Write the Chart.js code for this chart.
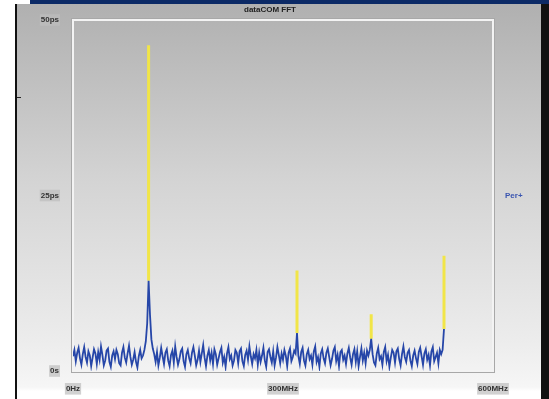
<!DOCTYPE html>
<html>
<head>
<meta charset="utf-8">
<script src="https://cdn.jsdelivr.net/npm/chart.js@4.4.1/dist/chart.umd.min.js"></script>
<style>
  html, body { margin: 0; padding: 0; background: #fff; }
  #frame {
    position: absolute; left: 15px; top: 4px; width: 524px; height: 395px;
    border-left: 2px solid #111; border-right: 8px solid #111;
    background: linear-gradient(#b0b0b0 0%, #d4d4d4 45%, #ececec 85%, #f6f6f6 97%, #ffffff 98%);
  }
  #band { position: absolute; left: 30px; top: 0; width: 519px; height: 4px; background: #0c2a66; }
  #dash { position: absolute; left: 17px; top: 97px; width: 4px; height: 1px; background: #222; }
  #wrap { position: absolute; left: 0; top: 0; width: 549px; height: 399px; }
</style>
</head>
<body>
<div id="frame"></div>
<div id="band"></div>
<div id="dash"></div>
<div id="wrap"><canvas id="fft" width="549" height="399"></canvas></div>
<script>
// trace sampled every 2 MHz starting at 0 Hz
const stepMHz = 2;
const perValues = [
  2.1, 3.0, 1.4, 2.6, 3.3, 1.8, 0.9, 2.4, 3.4, 2.0,
  1.2, 2.8, 2.2, 0.7, 1.9, 3.1, 2.5, 1.0, 2.7, 1.6,
  3.5, 2.3, 0.8, 1.5, 2.9, 3.2, 1.3, 0.6, 2.2, 2.8,
  1.7, 3.0, 2.4, 1.1, 0.8, 2.6, 3.4, 1.9, 1.2, 2.5,
  3.6, 2.0, 0.9, 1.6, 2.7, 1.3, 0.5, 2.1, 3.0, 1.8,
  2.2, 3.0, 4.2, 6.8, 12.9, 8.0, 4.5, 3.2, 2.4, 1.3,
  2.7, 0.8, 1.9, 3.3, 2.1, 1.0, 2.6, 3.1, 1.5, 0.7,
  2.3, 2.9, 1.2, 3.5, 2.0, 0.9, 1.7, 2.8, 3.2, 1.4,
  0.6, 2.4, 3.0, 1.8, 1.1, 2.6, 3.4, 2.2, 0.8, 1.6,
  2.9, 1.3, 2.5, 3.7, 1.9, 0.7, 2.2, 3.0, 1.5, 2.6,
  1.0, 3.1, 2.4, 0.9, 1.8, 2.7, 3.3, 1.2, 2.0, 0.6,
  2.5, 3.4, 1.7, 2.2, 0.8, 1.5, 3.0, 2.6, 1.1, 2.8,
  3.2, 1.4, 0.7, 2.3, 2.9, 1.6, 3.5, 2.1, 1.0, 2.4,
  1.8, 3.0, 0.9, 2.6, 1.3, 2.2, 3.3, 1.5, 0.6, 2.7,
  3.1, 2.0, 1.2, 2.8, 0.8, 1.9, 3.4, 2.3, 1.1, 2.5,
  1.6, 3.0, 2.2, 0.7, 2.6, 3.2, 1.4, 2.0, 2.9, 2.5,
  5.4, 2.1, 1.0, 2.7, 3.3, 1.5, 0.8, 2.4, 3.0, 1.7,
  2.2, 0.9, 2.8, 3.5, 1.3, 2.0, 0.6, 2.5, 3.1, 1.8,
  1.1, 2.6, 3.2, 2.0, 0.8, 1.7, 2.9, 3.4, 1.4, 2.3,
  0.7, 2.7, 3.0, 1.6, 2.2, 1.0, 2.5, 3.3, 1.9, 0.9,
  2.4, 3.1, 1.3, 2.8, 0.7, 2.0, 3.2, 1.5, 2.6, 1.1,
  2.9, 2.2, 3.0, 4.6, 2.4, 1.2, 0.8, 2.5, 3.3, 1.7,
  2.1, 0.9, 2.7, 3.4, 1.4, 2.3, 0.6, 1.9, 3.0, 2.6,
  1.2, 2.8, 3.2, 1.7, 0.8, 2.4, 3.5, 2.0, 1.3, 2.6,
  3.0, 1.5, 0.7, 2.2, 2.9, 1.8, 1.0, 2.7, 3.3, 2.1,
  0.9, 2.5, 3.1, 1.6, 2.3, 0.8, 2.8, 3.4, 1.4, 2.0,
  2.6, 1.1, 3.0, 2.4, 3.0, 6.0
];

// peak hold spikes (yellow): frequency, trace level, peak level
const peakFreqs = [108, 320, 426, 530];
const peakLows  = [12.9, 5.4, 4.6, 6.0];
const peakHighs = [46.4, 14.3, 8.1, 16.4];

const xTicks = { 0: "0Hz", 300: "300MHz", 600: "600MHz" };
const yTicks = { 0: "0s", 25: "25ps", 50: "50ps" };

const perPoints = perValues.map((v, i) => ({ x: i * stepMHz, y: v }));
const peakPoints = [];
peakFreqs.forEach((f, i) => {
  peakPoints.push({ x: f, y: peakLows[i] });
  peakPoints.push({ x: f, y: peakHighs[i] });
  peakPoints.push({ x: f, y: null });
});

const tickFont = { family: "'Liberation Sans', Arial, sans-serif", size: 8, weight: "bold" };

const frameDeco = {
  id: "frameDeco",
  beforeDatasetsDraw(chart) {
    const a = chart.chartArea, c = chart.ctx;
    c.save();
    c.strokeStyle = "#a8a8a8";
    c.lineWidth = 1;
    c.strokeRect(a.left - 1.5, a.top - 1.5, a.right - a.left + 3, a.bottom - a.top + 3);
    c.strokeStyle = "#f3f3f3";
    c.lineWidth = 2;
    c.strokeRect(a.left, a.top, a.right - a.left, a.bottom - a.top);
    c.restore();
  },
  afterDraw(chart) {
    const a = chart.chartArea, c = chart.ctx;
    c.save();
    c.font = "bold 8px 'Liberation Sans', Arial, sans-serif";
    c.textAlign = "center";
    c.textBaseline = "middle";
    c.fillStyle = "#222";
    c.fillText("dataCOM FFT", 270, 10);
    c.textAlign = "left";
    c.fillStyle = "#3a55b0";
    c.fillText(chart.data.datasets[1].label, a.right + 12, chart.scales.y.getPixelForValue(25));
    c.restore();
  }
};

new Chart(document.getElementById("fft").getContext("2d"), {
  type: "line",
  data: {
    datasets: [
      {
        label: "Peak",
        data: peakPoints,
        borderColor: "#f1e548",
        borderWidth: 3,
        pointRadius: 0,
        spanGaps: false,
        borderCapStyle: "butt"
      },
      {
        label: "Per+",
        data: perPoints,
        borderColor: "#2646a8",
        borderWidth: 1.8,
        pointRadius: 0,
        tension: 0
      }
    ]
  },
  plugins: [frameDeco],
  options: {
    responsive: false,
    animation: false,
    layout: { padding: { top: 20, right: 56, left: 0, bottom: 0 } },
    plugins: { legend: { display: false }, tooltip: { enabled: false } },
    scales: {
      x: {
        type: "linear",
        min: 0,
        max: 600,
        grid: { display: false },
        border: { display: false },
        afterFit: s => { s.height = 28; },
        afterBuildTicks: s => { s.ticks = [0, 300, 600].map(v => ({ value: v })); },
        ticks: {
          font: tickFont,
          color: "#333",
          padding: 5,
          maxRotation: 0,
          showLabelBackdrop: true,
          backdropColor: "rgba(190,190,190,0.7)",
          backdropPadding: 1,
          callback: v => xTicks[v]
        }
      },
      y: {
        min: 0,
        max: 50,
        grid: { display: false },
        border: { display: false },
        afterFit: s => { s.width = 73; },
        afterBuildTicks: s => { s.ticks = [0, 25, 50].map(v => ({ value: v })); },
        ticks: {
          font: tickFont,
          color: "#333",
          padding: 6,
          showLabelBackdrop: true,
          backdropColor: "rgba(190,190,190,0.7)",
          backdropPadding: 1,
          callback: v => yTicks[v]
        }
      }
    }
  }
});
</script>
</body>
</html>
